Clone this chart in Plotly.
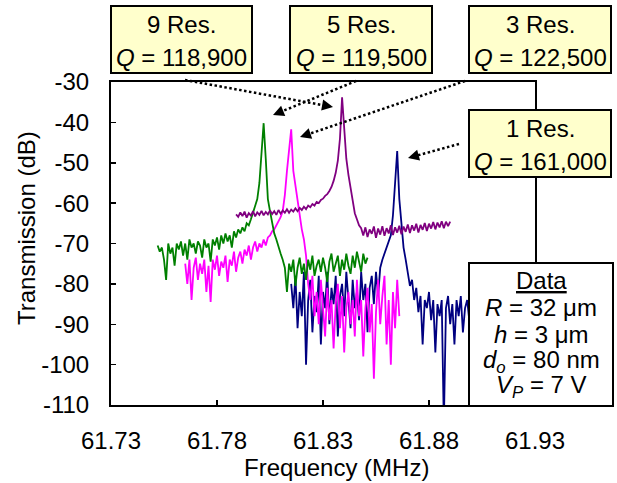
import plotly.graph_objects as go

# ---------------- data ----------------
STEP = 0.001  # MHz, sweep step

res9_start = 61.752
res9_db = [-70.5, -72, -71, -74, -79, -70, -72.5, -71, -75.5, -70,
           -71.5, -69.5, -73, -70, -74, -69, -71, -70, -72.5, -69.5,
           -70.5, -73.5, -69, -71, -70, -74.5, -69, -70.5, -68.5, -71.5,
           -68, -70, -67.5, -69.5, -68, -71, -67, -68.5, -66.5, -67.5,
           -66, -67, -65, -65.5, -64, -62.5, -61, -59, -55, -48,
           -40.2, -49, -59, -62, -65, -67.5, -69, -71, -72.5, -74,
           -76, -82, -75, -77, -74, -80.5, -76, -73.5, -77.5, -75,
           -79, -74, -76.5, -73, -78, -75.5, -74, -77, -73.5, -76,
           -79.5, -74.5, -72.5, -77, -75, -73, -78, -74, -76.5, -72.5,
           -75.5, -77.5, -73, -76, -72, -74.5, -77, -72.5, -75, -73.5]

res5_start = 61.765
res5_db = [-75, -80, -74, -84, -76, -73.5, -79, -75, -77.5, -74,
           -82, -75.5, -84.5, -74, -76.5, -73, -78, -74.5, -76, -73,
           -79.5, -74, -75.5, -72, -77, -73.5, -72, -75, -71.5, -73,
           -70.5, -74, -71, -69.5, -72, -70, -71, -69, -70.5, -68.5,
           -68, -67, -66.5, -65.5, -64.5, -63.5, -62, -58, -52, -46,
           -41.7, -52, -55.5, -60, -63, -66.5, -69, -73, -80, -84,
           -78, -88, -82, -90, -79, -86, -93, -81, -89, -84,
           -96, -85, -80, -91, -83, -97, -86, -82, -90, -84,
           -93, -79, -88, -84, -98, -86, -81, -92, -85, -103.5,
           -87, -79, -90, -83, -78, -95, -84, -100, -82, -91,
           -79, -88]

res3_start = 61.789
res3_db = [-62.8, -63.4, -62.3, -63.2, -62.1, -63.6, -62.5, -63.1, -62.0, -63.3,
           -62.3, -62.9, -61.9, -63.0, -62.2, -62.8, -61.8, -62.7, -62.0, -62.9,
           -61.7, -62.6, -61.8, -62.4, -61.5, -62.4, -61.6, -62.1, -61.3, -62.0,
           -61.2, -61.7, -60.9, -61.5, -60.6, -61.0, -60.2, -60.6, -59.7, -60.0,
           -59.2, -58.9, -58.2, -57.8, -57.0, -56.0, -54.5, -52.5, -49.5, -44.0,
           -33.8, -43.0, -49.0, -53.0, -56.0, -59.5, -62.5, -64.0, -65.5, -66.2,
           -68.0, -66.0, -68.4, -66.5, -67.6, -65.8, -68.6, -66.3, -67.8, -65.7,
           -68.1, -66.2, -67.5, -65.5, -67.9, -66.0, -67.3, -65.6, -67.7, -65.8,
           -67.1, -65.3, -67.4, -65.5, -66.8, -65.1, -67.3, -65.4, -66.6, -64.9,
           -66.9, -65.1, -66.3, -64.7, -66.5, -64.8, -66.0, -64.5, -66.2, -64.6,
           -65.7, -64.6]

res1_start = 61.815
res1_db = [-80, -86, -78, -91, -82, -88, -77, -100, -84, -79,
           -92, -83, -87, -78, -95, -82, -86, -77, -90, -81,
           -85, -78, -93, -83, -80, -88, -77, -84, -91, -79,
           -86, -82, -89, -77, -84, -80, -92, -81, -78, -85,
           -77, -83, -76, -74, -72.5, -71, -69.5, -68, -63, -55.5,
           -47.1, -59, -66, -71, -74, -77, -80.5, -79, -84, -81,
           -87, -83, -95, -84, -86, -82, -89, -84, -97, -85,
           -88, -84, -115, -86, -83, -90, -85, -95, -84, -88,
           -83, -92, -86, -84, -89, -85]

x_ticks = [61.73, 61.78, 61.83, 61.88, 61.93]
x_tick_labels = ["61.73", "61.78", "61.83", "61.88", "61.93"]
y_ticks = [-110, -100, -90, -80, -70, -60, -50, -40, -30]
y_tick_labels = ["-110", "-100", "-90", "-80", "-70", "-60", "-50", "-40", "-30"]

box_titles = ["9 Res.", "5 Res.", "3 Res.", "1 Res."]
box_q = ["118,900", "119,500", "122,500", "161,000"]

# ---------------- layout constants ----------------
W, H = 617, 483
L, R, T, B = 111, 535, 82, 405
FONT = "Liberation Sans, Arial, sans-serif"
YELLOW = "#FFFFCC"


def px(x):
    return (x - L) / (R - L)


def py(y):
    return (B - y) / (B - T)


def sweep(start, values):
    return [round(start + i * STEP, 4) for i in range(len(values))]


fig = go.Figure()
series = [
    (res1_start, res1_db, "#000080"),
    (res5_start, res5_db, "#FF00FF"),
    (res9_start, res9_db, "#008000"),
    (res3_start, res3_db, "#800080"),
]
for start, vals, col in series:
    fig.add_trace(go.Scatter(x=sweep(start, vals), y=vals, mode="lines",
                             line=dict(color=col, width=1.8), showlegend=False,
                             hoverinfo="skip"))

shapes = []
annotations = []

# dotted arrows (start px, tip px)
arrows = [((185, 80), (333, 107)),
          ((356, 81), (273, 115)),
          ((465, 81), (300, 137)),
          ((459, 144), (408, 158))]
for (sx, sy), (tx, ty) in arrows:
    dx, dy = sx - tx, sy - ty
    n = (dx * dx + dy * dy) ** 0.5
    ux, uy = dx / n, dy / n
    ex, ey = tx + ux * 9, ty + uy * 9
    shapes.append(dict(type="line", xref="paper", yref="paper",
                       x0=px(sx), y0=py(sy), x1=px(ex), y1=py(ey),
                       line=dict(color="black", width=2.5, dash="2.5px,2.5px")))
    annotations.append(dict(xref="paper", yref="paper", x=px(tx), y=py(ty),
                            ax=ux * 11, ay=uy * 11, axref="pixel", ayref="pixel",
                            text="", showarrow=True, arrowhead=2, arrowsize=1.1,
                            arrowwidth=2, arrowcolor="black"))

# yellow boxes: (x0, x1, y0, y1) outer px
boxes = [(110, 253, 5, 74), (289, 433, 5, 74), (468, 612, 5, 74), (468, 612, 109, 178)]
for (x0, x1, y0, y1), title, q in zip(boxes, box_titles, box_q):
    shapes.append(dict(type="rect", xref="paper", yref="paper",
                       x0=px(x0 + 1), x1=px(x1 - 1), y0=py(y0 + 1), y1=py(y1 - 1),
                       fillcolor=YELLOW, line=dict(color="black", width=2)))
    cx = (x0 + x1) / 2
    for txt, base in ((title, y0 + 26.5), ("<i>Q</i> = " + q, y0 + 60)):
        annotations.append(dict(xref="paper", yref="paper", x=px(cx), y=py(base - 21.7),
                                xanchor="center", yanchor="top", showarrow=False,
                                borderpad=0, text=txt,
                                font=dict(family=FONT, size=24, color="black")))

# data box
shapes.append(dict(type="rect", xref="paper", yref="paper",
                   x0=px(469), x1=px(613), y0=py(263), y1=py(406),
                   fillcolor="white", line=dict(color="black", width=2)))
data_lines = ["<u>Data</u>",
              "<i>R</i> = 32 \u03bcm",
              "<i>h</i> = 3 \u03bcm",
              "<i>d<sub>o</sub></i> = 80 nm",
              "<i>V<sub>P</sub></i> = 7 V"]
data_base = [288, 315, 342, 367, 392]
for txt, base in zip(data_lines, data_base):
    annotations.append(dict(xref="paper", yref="paper", x=px(541), y=py(base - 21.7),
                            xanchor="center", yanchor="top", showarrow=False,
                            borderpad=0, text=txt,
                            font=dict(family=FONT, size=24, color="black")))

# axis titles
annotations.append(dict(xref="paper", yref="paper", x=px(336), y=py(475 - 21.7),
                        xanchor="center", yanchor="top", showarrow=False, borderpad=0,
                        text="Frequency (MHz)", font=dict(family=FONT, size=24, color="black")))
annotations.append(dict(xref="paper", yref="paper", x=px(26), y=py(228),
                        xanchor="center", yanchor="middle", showarrow=False, borderpad=0,
                        textangle=-90, text="Transmission (dB)",
                        font=dict(family=FONT, size=24, color="black")))

fig.update_layout(
    width=W, height=H,
    margin=dict(l=L, r=W - R, t=T, b=H - B, pad=0),
    paper_bgcolor="white", plot_bgcolor="white",
    font=dict(family=FONT, size=24, color="black"),
    shapes=shapes, annotations=annotations, showlegend=False,
    xaxis=dict(range=[61.73, 61.93], tickvals=x_ticks, ticktext=x_tick_labels,
               ticks="inside", ticklen=5, tickwidth=1.5, tickcolor="black",
               showline=True, linewidth=2, linecolor="black", mirror=True,
               showgrid=False, zeroline=False, ticklabelstandoff=13),
    yaxis=dict(range=[-110, -30], tickvals=y_ticks, ticktext=y_tick_labels,
               ticks="inside", ticklen=5, tickwidth=1.5, tickcolor="black",
               showline=True, linewidth=2, linecolor="black", mirror=True,
               showgrid=False, zeroline=False, ticklabelstandoff=15),
)

fig.write_html("out.html", config={"displayModeBar": False, "staticPlot": True},
               post_script="document.body.style.margin='0';document.body.style.overflow='hidden';")
